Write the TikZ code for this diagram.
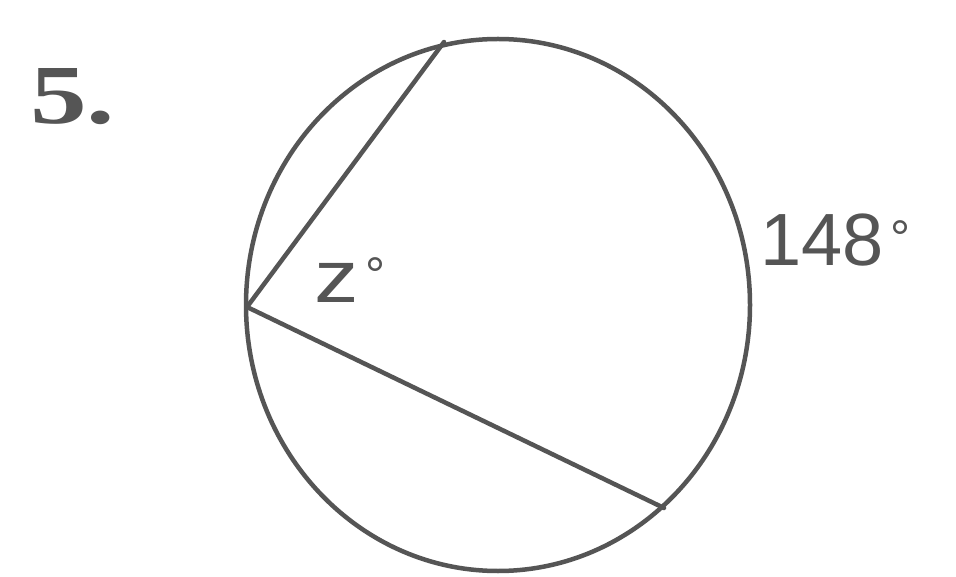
\documentclass[tikz,border=0pt]{standalone}
\usepackage{fontspec}
\setmainfont{Liberation Serif}
\newfontfamily\labfont{Liberation Sans}
\definecolor{ink}{RGB}{85,85,85}
\newcommand{\degmark}{{\hspace{7pt}\fontsize{50}{50}\selectfont\raisebox{10pt}{°}}}
\begin{document}
\begin{tikzpicture}[x=1pt,y=-1pt,
  edge/.style={draw=ink,line width=4.5pt,line cap=round},
  lab/.style={text=ink,inner sep=0pt,font=\labfont\fontsize{74}{74}\selectfont}]
\useasboundingbox (0,0) rectangle (956,577);
\fill[white] (0,0) rectangle (956,577);
\coordinate (O) at (498,305);
\draw[edge] (O) ellipse [x radius=252, y radius=266];
\coordinate (V) at (247,307);
\coordinate (T) at (444,42);
\coordinate (B) at (664,508);
\draw[edge] (V) -- (T);
\draw[edge] (V) -- (B);
\node[text=ink,inner sep=0pt,anchor=base west,font=\bfseries\fontsize{84}{84}\selectfont] (num) at (30,124) {\scalebox{1.35}[1]{5.}};
\node[lab,anchor=base west] (arc) at (760,266) {148\degmark};
\node[lab,anchor=base west] (ang) at (314,303) {\scalebox{1.2}[1]{z}\degmark};
\end{tikzpicture}
\end{document}
